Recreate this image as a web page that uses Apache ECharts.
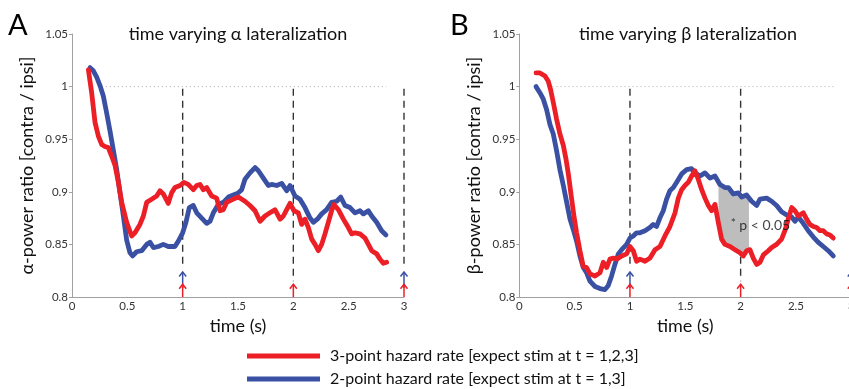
<!DOCTYPE html>
<html>
<head>
<meta charset="utf-8">
<script src="https://cdn.jsdelivr.net/npm/echarts@6/dist/echarts.min.js"></script>
<style>
  html, body { margin: 0; padding: 0; background: #fff; }
  #chart { width: 849px; height: 389px; }
</style>
</head>
<body>
<div id="chart"></div>
<script>
// [time (s), power ratio]
const alphaRed = [[0.148,1.016],[0.178,0.994],[0.208,0.966],[0.238,0.953],[0.268,0.945],[0.298,0.943],[0.328,0.942],[0.358,0.934],[0.389,0.925],[0.419,0.909],[0.449,0.890],[0.494,0.871],[0.539,0.858],[0.569,0.861],[0.614,0.869],[0.645,0.877],[0.675,0.890],[0.72,0.893],[0.765,0.896],[0.795,0.901],[0.825,0.898],[0.87,0.889],[0.9,0.899],[0.93,0.904],[0.976,0.906],[1.01,0.909],[1.05,0.907],[1.096,0.902],[1.127,0.906],[1.157,0.907],[1.187,0.902],[1.217,0.904],[1.262,0.896],[1.307,0.894],[1.337,0.882],[1.367,0.883],[1.398,0.890],[1.458,0.893],[1.503,0.895],[1.563,0.891],[1.608,0.887],[1.654,0.882],[1.699,0.872],[1.744,0.877],[1.789,0.880],[1.834,0.883],[1.88,0.874],[1.91,0.877],[1.94,0.883],[1.97,0.889],[2.006,0.882],[2.045,0.880],[2.075,0.869],[2.105,0.874],[2.136,0.866],[2.166,0.855],[2.196,0.850],[2.226,0.844],[2.256,0.850],[2.286,0.860],[2.316,0.871],[2.346,0.882],[2.367,0.888],[2.407,0.883],[2.452,0.874],[2.497,0.866],[2.527,0.860],[2.557,0.861],[2.602,0.860],[2.648,0.856],[2.678,0.850],[2.708,0.844],[2.753,0.841],[2.783,0.836],[2.813,0.832],[2.843,0.833]];
const alphaBlue = [[0.163,1.018],[0.193,1.015],[0.223,1.009],[0.253,1.001],[0.283,0.991],[0.313,0.975],[0.343,0.958],[0.373,0.940],[0.404,0.921],[0.434,0.899],[0.464,0.877],[0.494,0.854],[0.524,0.842],[0.548,0.839],[0.584,0.843],[0.63,0.844],[0.675,0.850],[0.705,0.852],[0.735,0.847],[0.78,0.848],[0.825,0.850],[0.87,0.848],[0.93,0.848],[0.96,0.853],[1.0,0.861],[1.03,0.871],[1.06,0.885],[1.096,0.887],[1.127,0.880],[1.172,0.875],[1.217,0.870],[1.247,0.872],[1.277,0.880],[1.322,0.888],[1.367,0.890],[1.413,0.895],[1.458,0.897],[1.503,0.899],[1.533,0.902],[1.563,0.912],[1.608,0.918],[1.654,0.923],[1.684,0.920],[1.729,0.913],[1.774,0.906],[1.804,0.907],[1.849,0.906],[1.895,0.908],[1.94,0.901],[1.97,0.906],[2.015,0.896],[2.06,0.893],[2.105,0.885],[2.151,0.875],[2.181,0.871],[2.217,0.874],[2.256,0.879],[2.301,0.883],[2.346,0.890],[2.392,0.891],[2.428,0.895],[2.467,0.887],[2.512,0.885],[2.557,0.880],[2.602,0.882],[2.633,0.879],[2.678,0.882],[2.708,0.877],[2.753,0.871],[2.798,0.863],[2.837,0.859]];
const betaRed = [[0.151,1.013],[0.187,1.013],[0.232,1.010],[0.262,1.005],[0.283,0.997],[0.307,0.985],[0.337,0.969],[0.367,0.955],[0.398,0.944],[0.422,0.931],[0.443,0.917],[0.473,0.893],[0.494,0.877],[0.518,0.861],[0.548,0.844],[0.578,0.829],[0.608,0.828],[0.639,0.822],[0.684,0.820],[0.729,0.823],[0.759,0.833],[0.789,0.828],[0.819,0.836],[0.849,0.837],[0.88,0.836],[0.925,0.839],[0.97,0.841],[1.0,0.848],[1.03,0.844],[1.06,0.834],[1.09,0.836],[1.136,0.834],[1.181,0.837],[1.226,0.845],[1.271,0.848],[1.316,0.858],[1.361,0.867],[1.407,0.880],[1.437,0.894],[1.467,0.902],[1.497,0.906],[1.527,0.909],[1.557,0.915],[1.587,0.920],[1.617,0.912],[1.648,0.902],[1.678,0.894],[1.708,0.887],[1.738,0.882],[1.768,0.888],[1.798,0.871],[1.828,0.855],[1.858,0.850],[1.904,0.848],[1.949,0.845],[1.994,0.842],[2.024,0.839],[2.054,0.844],[2.084,0.845],[2.114,0.837],[2.145,0.831],[2.175,0.833],[2.205,0.840],[2.25,0.844],[2.28,0.847],[2.325,0.850],[2.37,0.855],[2.4,0.863],[2.43,0.874],[2.461,0.885],[2.491,0.882],[2.521,0.877],[2.566,0.880],[2.596,0.874],[2.626,0.869],[2.657,0.867],[2.687,0.866],[2.717,0.863],[2.747,0.863],[2.777,0.860],[2.807,0.859],[2.837,0.856]];
const betaBlue = [[0.151,1.0],[0.187,0.994],[0.217,0.988],[0.247,0.978],[0.277,0.964],[0.307,0.955],[0.337,0.939],[0.367,0.921],[0.398,0.906],[0.428,0.890],[0.458,0.874],[0.488,0.864],[0.518,0.853],[0.548,0.839],[0.578,0.828],[0.608,0.823],[0.639,0.815],[0.684,0.810],[0.729,0.808],[0.774,0.807],[0.804,0.811],[0.834,0.820],[0.864,0.831],[0.895,0.841],[0.925,0.845],[0.97,0.850],[1.0,0.856],[1.03,0.858],[1.06,0.861],[1.09,0.861],[1.136,0.863],[1.18,0.866],[1.21,0.869],[1.24,0.867],[1.27,0.875],[1.301,0.882],[1.331,0.893],[1.361,0.901],[1.392,0.904],[1.422,0.909],[1.467,0.917],[1.512,0.921],[1.557,0.922],[1.587,0.918],[1.633,0.915],[1.678,0.918],[1.723,0.913],[1.768,0.915],[1.813,0.907],[1.858,0.904],[1.889,0.904],[1.934,0.898],[1.979,0.899],[2.009,0.895],[2.054,0.897],[2.099,0.891],[2.145,0.887],[2.175,0.893],[2.235,0.894],[2.28,0.891],[2.325,0.887],[2.37,0.881],[2.416,0.878],[2.461,0.876],[2.491,0.872],[2.521,0.876],[2.566,0.870],[2.611,0.863],[2.657,0.857],[2.702,0.852],[2.747,0.848],[2.792,0.844],[2.837,0.839]];

// stimulus times: dashed lines and arrows
const stimLinesA = [1, 2, 3];
const stimLinesB = [1, 2];
const blueArrowsA = [1, 3];
const redArrowsA = [1, 2, 3];
const blueArrowsB = [1, 3];
const redArrowsB = [1, 2, 3];
const sigWindowB = [1.80, 2.075];   // shaded p < 0.05 interval
const baselineA = [0.27, 2.84];
const baselineB = [0.30, 2.85];

const xTicks = [0, 0.5, 1, 1.5, 2, 2.5, 3];
const yTicks = [0.8, 0.85, 0.9, 0.95, 1, 1.05];

const name3 = '3-point hazard rate [expect stim at t = 1,2,3]';
const name2 = '2-point hazard rate [expect stim at t = 1,3]';
const RED = '#ec1f27';
const BLUE = '#3a51a3';
const FONT = 'Lato';

const chart = echarts.init(document.getElementById('chart'));

const xAxisBase = (gi) => ({
  type: 'value', gridIndex: gi, min: 0, max: 3, interval: 0.5,
  name: 'time (s)', nameLocation: 'middle', nameGap: 15,
  nameTextStyle: { fontFamily: FONT, fontSize: 18, color: '#111' },
  axisLine: { lineStyle: { color: '#a0a0a0', width: 1 } },
  axisTick: { show: false },
  splitLine: { show: false },
  axisLabel: { fontFamily: FONT, fontSize: 11.5, color: '#333', margin: 3,
    formatter: v => xTicks.find(t => Math.abs(t - v) < 1e-6) + '' }
});
const yAxisBase = (gi, nm) => ({
  type: 'value', gridIndex: gi, min: 0.8, max: 1.05, interval: 0.05,
  name: nm, nameLocation: 'middle', nameGap: 36,
  nameTextStyle: { fontFamily: FONT, fontSize: 18, color: '#111' },
  axisLine: { show: true, lineStyle: { color: '#a0a0a0', width: 1 } },
  axisTick: { show: true, length: 3, lineStyle: { color: '#a0a0a0' } },
  splitLine: { show: false },
  axisLabel: { fontFamily: FONT, fontSize: 11.5, color: '#333', margin: 4,
    formatter: v => yTicks.find(t => Math.abs(t - v) < 1e-6) + '' }
});

const curve = (nm, data, color, gi) => ({
  name: nm, type: 'line', xAxisIndex: gi, yAxisIndex: gi, data: data,
  showSymbol: false, symbol: 'none', z: 5,
  lineStyle: { color: color, width: 4.8, join: 'round', cap: 'round' },
  itemStyle: { color: color }
});

const vline = (t, top, bottom, gi) => ({
  type: 'line', xAxisIndex: gi, yAxisIndex: gi, data: [[t, top], [t, bottom]],
  showSymbol: false, symbol: 'none', silent: true, z: 2,
  lineStyle: { color: '#333', width: 1.4, type: [7, 5] }
});

const baseline = (range, gi) => ({
  type: 'line', xAxisIndex: gi, yAxisIndex: gi, data: [[range[0], 1], [range[1], 1]],
  showSymbol: false, symbol: 'none', silent: true, z: 1,
  lineStyle: { color: '#b0b0b0', width: 1, type: [1, 3] }
});

const arrows = (times, tip, base, color, gi) => ({
  type: 'custom', xAxisIndex: gi, yAxisIndex: gi, silent: true, z: 6, clip: false,
  data: times.map(t => [t, tip, base]),
  renderItem: (params, api) => {
    const p = api.coord([api.value(0), api.value(1)]);
    const b = api.coord([api.value(0), api.value(2)]);
    const st = { stroke: color, lineWidth: 1.5, fill: null };
    return {
      type: 'group',
      children: [
        { type: 'line', shape: { x1: b[0], y1: b[1], x2: p[0], y2: p[1] }, style: st },
        { type: 'polyline', shape: { points: [[p[0] - 3.5, p[1] + 4.5], [p[0], p[1]], [p[0] + 3.5, p[1] + 4.5]] }, style: st }
      ]
    };
  }
});

// lerp at window edges so the shaded polygon meets the curves
function valueAt(arr, t) {
  for (let i = 1; i < arr.length; i++) {
    if (arr[i][0] >= t) {
      const a = arr[i - 1], b = arr[i];
      return a[1] + (b[1] - a[1]) * (t - a[0]) / (b[0] - a[0]);
    }
  }
  return arr[arr.length - 1][1];
}

const shade = {
  type: 'custom', xAxisIndex: 1, yAxisIndex: 1, silent: true, z: 3,
  data: [sigWindowB],
  renderItem: (params, api) => {
    const t0 = api.value(0), t1 = api.value(1);
    const upper = [[t0, valueAt(betaBlue, t0)]]
      .concat(betaBlue.filter(d => d[0] > t0 && d[0] < t1))
      .concat([[t1, valueAt(betaBlue, t1)]]);
    const lower = [[t0, valueAt(betaRed, t0)]]
      .concat(betaRed.filter(d => d[0] > t0 && d[0] < t1))
      .concat([[t1, valueAt(betaRed, t1)]]);
    const pts = upper.concat(lower.reverse()).map(d => api.coord(d));
    return { type: 'polygon', shape: { points: pts }, style: { fill: '#bdbdbd', stroke: null } };
  }
};

const legendItem = (nm, top) => ({
  data: [nm], left: 247, top: top, padding: 0,
  icon: 'rect', itemWidth: 73, itemHeight: 5,
  textStyle: { fontFamily: FONT, fontSize: 16, color: '#111', padding: [0, 0, 0, 5] },
  selectedMode: false
});

const option = {
  backgroundColor: '#fff',
  animation: false,
  textStyle: { fontFamily: FONT },
  grid: [
    { left: 72, top: 34, width: 332, height: 263, outerBoundsMode: 'none' },
    { left: 519.3, top: 34, width: 332, height: 263, outerBoundsMode: 'none' }
  ],
  xAxis: [xAxisBase(0), xAxisBase(1)],
  yAxis: [yAxisBase(0, 'α-power ratio [contra / ipsi]'), yAxisBase(1, 'β-power ratio [contra / ipsi]')],
  legend: [legendItem(name3, 348), legendItem(name2, 371)],
  graphic: [
    { type: 'text', x: 8, y: 11, style: { text: 'A', fontFamily: FONT, fontSize: 29, fill: '#000' } },
    { type: 'text', x: 450, y: 11, style: { text: 'B', fontFamily: FONT, fontSize: 29, fill: '#000' } },
    { type: 'text', x: 238, y: 34, style: { text: 'time varying α lateralization', fontFamily: FONT, fontSize: 18, fill: '#111', textAlign: 'center', textVerticalAlign: 'middle' } },
    { type: 'text', x: 688, y: 34, style: { text: 'time varying β lateralization', fontFamily: FONT, fontSize: 18, fill: '#111', textAlign: 'center', textVerticalAlign: 'middle' } }
  ],
  series: [
    baseline(baselineA, 0),
    baseline(baselineB, 1),
    ...stimLinesA.map(t => vline(t, 0.998, blueArrowsA.includes(t) ? 0.831 : 0.815, 0)),
    ...stimLinesB.map(t => vline(t, 0.998, blueArrowsB.includes(t) ? 0.831 : 0.815, 1)),
    shade,
    curve(name2, alphaBlue, BLUE, 0),
    curve(name3, alphaRed, RED, 0),
    curve(name2, betaBlue, BLUE, 1),
    curve(name3, betaRed, RED, 1),
    arrows(blueArrowsA, 0.8238, 0.8085, BLUE, 0),
    arrows(redArrowsA, 0.8122, 0.8, RED, 0),
    arrows(blueArrowsB, 0.8238, 0.8085, BLUE, 1),
    arrows(redArrowsB, 0.8122, 0.8, RED, 1),
    {
      type: 'scatter', xAxisIndex: 1, yAxisIndex: 1, silent: true, z: 7,
      data: [[1.91, 0.868]], symbolSize: 0,
      label: {
        show: true, position: 'right', distance: 0,
        formatter: '{a|*} {b|p < 0.05}',
        fontFamily: FONT, fontSize: 14, color: '#111', lineHeight: 16,
        rich: {
          a: { fontSize: 12, fontFamily: FONT, color: '#111', verticalAlign: 'top', lineHeight: 12 },
          b: { fontSize: 14, fontFamily: FONT, color: '#111', lineHeight: 16 }
        }
      }
    }
  ]
};

chart.setOption(option);
</script>
</body>
</html>
